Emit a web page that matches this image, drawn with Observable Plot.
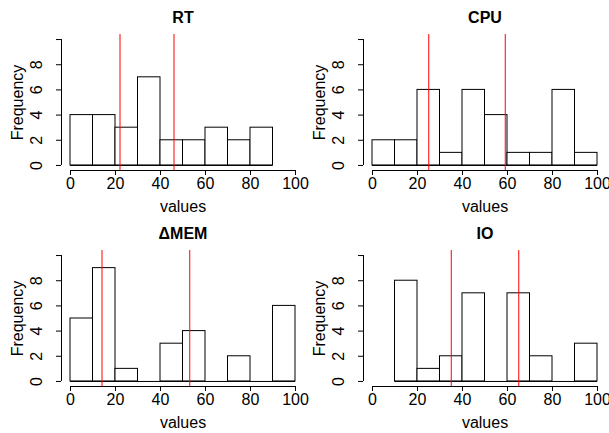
<!DOCTYPE html>
<html><head><meta charset="utf-8">
<script src="https://cdn.jsdelivr.net/npm/d3@7"></script>
<script src="https://cdn.jsdelivr.net/npm/@observablehq/plot@0.6"></script>
<style>
html,body{margin:0;padding:0;background:#fff;}
#chart{position:relative;width:609px;height:433px;overflow:hidden;font-family:"Liberation Sans",Arial,sans-serif;}
#chart svg{position:absolute;overflow:visible;}
</style></head><body><div id="chart"></div>
<script>
const titles = ["RT", "CPU", "ΔMEM", "IO"];
const binEdges = [0, 10, 20, 30, 40, 50, 60, 70, 80, 90, 100];
const rtCounts = [4, 4, 3, 7, 2, 2, 3, 2, 3, null];
const cpuCounts = [2, 2, 6, 1, 6, 4, 1, 1, 6, 1];
const memCounts = [5, 9, 1, 0, 3, 4, 0, 2, 0, 6];
const ioCounts = [null, 8, 1, 2, 7, 0, 7, 2, 0, 3];
const rtLines = [22, 46];
const cpuLines = [25, 59];
const memLines = [14, 53];
const ioLines = [35, 65];
const xTicks = [0, 20, 40, 60, 80, 100];
const yTicks = [0, 2, 4, 6, 8, 10];
const yLabels = [0, 2, 4, 6, 8];
const xDomain = [-4, 104];
const yDomain = [-0.4, 10.4];

function panel(title, counts, lines) {
  const bins = counts.map((c, i) => ({x1: binEdges[i], x2: binEdges[i + 1], c})).filter(d => d.c != null);
  const start = bins[0].x1, end = bins[bins.length - 1].x2;
  const bars = bins.filter(d => d.c > 0);
  return Plot.plot({
    width: 305, height: 216,
    marginLeft: 61, marginRight: 1, marginTop: 34, marginBottom: 46,
    x: {domain: xDomain},
    y: {domain: yDomain},
    style: {fontFamily: "'Liberation Sans', Arial, sans-serif", fontSize: "16px", background: "transparent", overflow: "visible", color: "black"},
    marks: [
      Plot.rect(bars, {x1: "x1", x2: "x2", y1: 0, y2: "c", fill: "white", stroke: "black"}),
      Plot.ruleY([0], {x1: start, x2: end, stroke: "black"}),
      Plot.ruleX(lines, {stroke: "red"}),
      Plot.ruleY([yDomain[0]], {x1: xTicks[0], x2: xTicks[xTicks.length - 1], stroke: "black"}),
      Plot.axisX(xTicks, {tickSize: 5, tickPadding: 2, label: null}),
      Plot.ruleX([xDomain[0]], {y1: yTicks[0], y2: yTicks[yTicks.length - 1], stroke: "black"}),
      Plot.axisY(yTicks, {tickSize: 5, tickFormat: () => "", label: null}),
      Plot.text(yLabels, {y: d => d, text: d => String(d), frameAnchor: "left", dx: -19.5, rotate: -90, textAnchor: "middle", lineAnchor: "bottom"}),
      Plot.text([title], {text: d => d, frameAnchor: "top", dy: -11.5, lineAnchor: "bottom", fontWeight: "bold"}),
      Plot.text(["values"], {text: d => d, frameAnchor: "bottom", dy: 41.5, lineAnchor: "bottom"}),
      Plot.text(["Frequency"], {text: d => d, frameAnchor: "left", dx: -39, rotate: -90, textAnchor: "middle", lineAnchor: "bottom"})
    ]
  });
}

const chart = document.getElementById("chart");
const specs = [
  [titles[0], rtCounts, rtLines, 0, 0],
  [titles[1], cpuCounts, cpuLines, 302, 0],
  [titles[2], memCounts, memLines, 0, 216],
  [titles[3], ioCounts, ioLines, 302, 216]
];
for (const [t, c, l, left, top] of specs) {
  const svg = panel(t, c, l);
  svg.style.left = left + "px";
  svg.style.top = top + "px";
  chart.appendChild(svg);
}
</script></body></html>
